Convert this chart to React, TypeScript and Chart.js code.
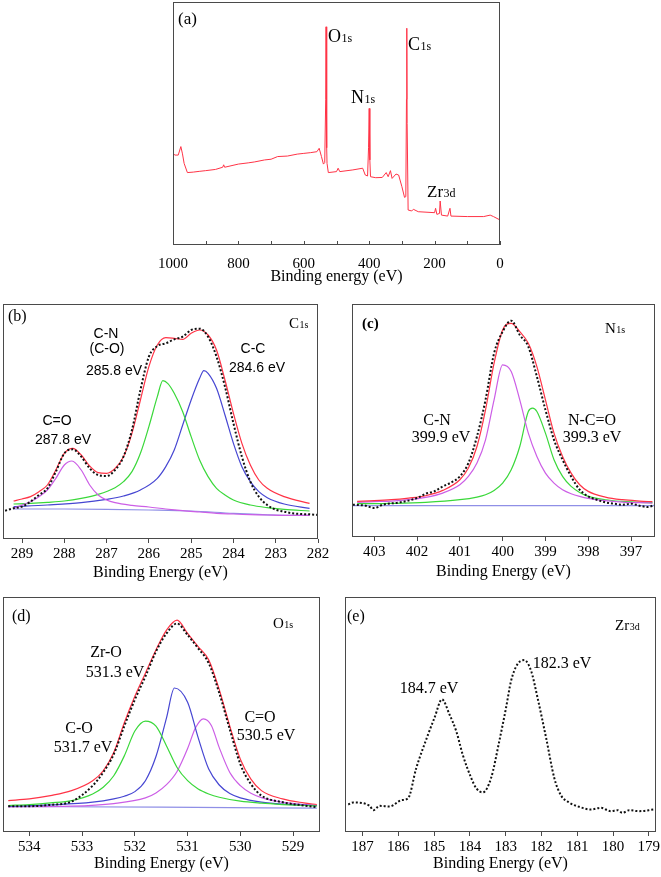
import React, { useEffect, useRef } from "react";
import { Chart, registerables } from "chart.js";

Chart.register(...registerables);

type Pt = [number, number];

const SERIF = '"Liberation Serif", "Times New Roman", serif';
const SANS = '"Liberation Sans", Arial, sans-serif';

// ---------- (a) survey spectrum: [binding energy eV, intensity a.u.] ----------
const surveyScan: Pt[] = [
  [1000, 37.7], [994, 37.0], [984, 37.0], [976, 40.5], [971, 37.5], [966, 33.6], [956, 29.8], [938, 30.0],
  [920, 30.3], [900, 30.6], [870, 31.1], [848, 32.0], [845, 33.0], [842, 32.0], [800, 33.3], [770, 33.8],
  [750, 34.2], [720, 35.0], [700, 35.3], [680, 36.4], [650, 36.6], [620, 37.4], [600, 37.7], [580, 38.0],
  [560, 38.4], [553, 39.8], [546, 36.4], [540, 33.3], [536, 33.9], [533, 60], [532, 89.8], [530, 40],
  [529, 33.6], [525, 29.8], [500, 30.2], [495, 31.6], [490, 30.2], [450, 30.9], [420, 31.6], [412, 28.8],
  [405, 28.4], [402, 40], [400, 56.2], [398, 35], [396, 28.1], [380, 27.7], [360, 27.8], [348, 29.8],
  [342, 28.1], [335, 30.6], [330, 27.4], [318, 29.2], [310, 28.8], [300, 24.0], [292, 19.6], [288, 19.9],
  [286, 60], [285, 89.2], [284, 50], [281, 14.4], [270, 14.0], [265, 14.7], [250, 13.7], [200, 13.3],
  [197, 15.1], [193, 12.6], [185, 13.0], [183, 18.1], [179, 12.3], [160, 11.9], [153, 15.1], [150, 11.9],
  [100, 11.7], [50, 11.7], [30, 12.3], [20, 11.7], [0, 10.3],
];

// ---------- (b) C1s ----------
const c1sRaw: Pt[] = [
  [289.4, 85], [289.2, 92], [289.0, 97], [288.8, 112], [288.6, 132], [288.4, 152], [288.2, 202], [288.0, 257],
  [287.8, 269], [287.6, 247], [287.4, 212], [287.2, 192], [287.0, 189], [286.8, 207], [286.6, 247], [286.4, 327],
  [286.2, 447], [286.0, 547], [285.8, 579], [285.6, 587], [285.4, 599], [285.2, 607], [285.0, 627], [284.8, 631],
  [284.6, 607], [284.4, 547], [284.2, 457], [284.0, 347], [283.8, 247], [283.6, 172], [283.4, 127], [283.2, 102],
  [283.0, 88], [282.8, 82], [282.6, 77], [282.4, 75], [282.2, 74], [282.0, 72],
];
const c1sEnvelope: Pt[] = [
  [289.2, 114], [289.0, 120], [288.8, 127], [288.6, 142], [288.4, 162], [288.2, 207], [288.0, 257], [287.8, 272],
  [287.6, 252], [287.4, 219], [287.2, 199], [287.0, 197], [286.8, 212], [286.6, 247], [286.4, 317], [286.2, 417],
  [286.0, 517], [285.8, 582], [285.6, 604], [285.4, 602], [285.2, 599], [285.0, 617], [284.8, 627], [284.6, 612],
  [284.4, 567], [284.2, 477], [284.0, 377], [283.8, 287], [283.6, 222], [283.4, 177], [283.2, 152], [282.8, 127],
  [282.2, 107],
];
const c1sCO: Pt[] = [
  [289.2, 92], [289.0, 102], [288.8, 112], [288.6, 127], [288.4, 147], [288.2, 182], [288.0, 222], [287.82, 234],
  [287.6, 207], [287.4, 162], [287.2, 132], [287.0, 117], [286.8, 109], [286.4, 101], [286.0, 96], [285.6, 90],
  [285.2, 85], [284.8, 81], [284.4, 77], [284.0, 75], [283.6, 73], [283.2, 72], [282.8, 71], [282.2, 71],
];
const c1sCN: Pt[] = [
  [289.2, 105], [288.8, 107], [288.4, 110], [288.0, 114], [287.6, 122], [287.2, 134], [286.8, 154], [286.6, 172],
  [286.4, 202], [286.2, 257], [286.0, 337], [285.8, 427], [285.67, 475], [285.55, 466], [285.4, 437], [285.2, 382],
  [285.0, 307], [284.8, 237], [284.6, 187], [284.4, 152], [284.2, 132], [284.0, 117], [283.6, 102], [283.2, 94],
  [282.8, 89], [282.2, 84],
];
const c1sCC: Pt[] = [
  [289.2, 97], [288.4, 102], [287.6, 109], [287.0, 119], [286.6, 129], [286.2, 147], [285.8, 182], [285.6, 217],
  [285.4, 267], [285.2, 342], [285.0, 417], [284.8, 482], [284.7, 505], [284.6, 497], [284.4, 452], [284.2, 372],
  [284.0, 287], [283.8, 217], [283.6, 172], [283.4, 142], [283.2, 124], [282.8, 105], [282.2, 92],
];
const c1sBackground: Pt[] = [
  [289.2, 90], [288.0, 90], [287.0, 89], [286.0, 87], [285.0, 84], [284.0, 77], [283.0, 72], [282.2, 71],
];

// ---------- (c) N1s ----------
const n1sRaw: Pt[] = [
  [403.5, 97], [403.2, 94], [403.0, 87], [402.8, 97], [402.4, 104], [402.0, 117], [401.8, 130], [401.6, 137],
  [401.4, 152], [401.2, 164], [401.0, 182], [400.8, 222], [400.6, 302], [400.4, 412], [400.2, 552], [400.0, 617],
  [399.8, 650], [399.6, 607], [399.4, 572], [399.2, 482], [399.0, 382], [398.8, 292], [398.6, 232], [398.4, 182],
  [398.2, 142], [398.0, 122], [397.8, 112], [397.6, 104], [397.4, 100], [397.2, 97], [397.0, 100], [396.8, 94],
  [396.6, 90], [396.45, 97],
];
const n1sEnvelope: Pt[] = [
  [403.4, 107], [403.0, 109], [402.6, 112], [402.2, 117], [401.8, 124], [401.4, 140], [401.0, 172], [400.8, 207],
  [400.6, 272], [400.4, 382], [400.2, 522], [400.0, 622], [399.8, 642], [399.6, 617], [399.4, 582], [399.2, 512],
  [399.0, 412], [398.8, 312], [398.6, 242], [398.4, 192], [398.2, 157], [398.0, 137], [397.6, 120], [397.2, 112],
  [396.8, 108], [396.5, 106],
];
const n1sCN: Pt[] = [
  [403.4, 104], [403.0, 106], [402.6, 108], [402.2, 112], [401.8, 119], [401.4, 132], [401.0, 157], [400.8, 182],
  [400.6, 222], [400.4, 292], [400.2, 412], [400.0, 517], [399.8, 497], [399.6, 412], [399.4, 312], [399.2, 242],
  [399.0, 192], [398.8, 162], [398.6, 142], [398.4, 130], [398.2, 122], [398.0, 116], [397.6, 109], [397.2, 105],
  [396.8, 103], [396.5, 102],
];
const n1sNCO: Pt[] = [
  [403.4, 100], [402.6, 101], [401.8, 104], [401.0, 112], [400.6, 120], [400.4, 127], [400.2, 140], [400.0, 162],
  [399.8, 202], [399.6, 272], [399.4, 377], [399.3, 387], [399.2, 377], [399.0, 312], [398.8, 232], [398.6, 182],
  [398.4, 152], [398.2, 134], [398.0, 122], [397.6, 112], [397.2, 107], [396.8, 104], [396.5, 103],
];
const n1sBackground: Pt[] = [[403.5, 94], [396.45, 94]];

// ---------- (d) O1s ----------
const o1sRaw: Pt[] = [
  [534.4, 78], [534.0, 78], [533.6, 82], [533.2, 92], [532.8, 140], [532.6, 180], [532.4, 235], [532.2, 320],
  [532.0, 400], [531.8, 470], [531.6, 545], [531.4, 600], [531.2, 630], [531.0, 595], [530.8, 555], [530.6, 510],
  [530.4, 420], [530.2, 310], [530.0, 205], [529.8, 145], [529.6, 110], [529.2, 90], [528.8, 80], [528.55, 75],
];
const o1sEnvelope: Pt[] = [
  [534.4, 95], [534.0, 100], [533.6, 110], [533.2, 125], [532.8, 155], [532.6, 185], [532.4, 240], [532.2, 330],
  [532.0, 410], [531.8, 480], [531.6, 550], [531.4, 610], [531.2, 640], [531.0, 600], [530.8, 560], [530.6, 520],
  [530.4, 430], [530.2, 320], [530.0, 220], [529.8, 160], [529.6, 125], [529.2, 100], [528.8, 88], [528.55, 83],
];
const o1sCO: Pt[] = [
  [534.4, 80], [534.0, 83], [533.6, 88], [533.2, 95], [532.8, 115], [532.6, 135], [532.4, 170], [532.2, 230],
  [532.0, 305], [531.8, 335], [531.6, 320], [531.4, 260], [531.2, 195], [531.0, 155], [530.8, 130], [530.6, 115],
  [530.4, 105], [530.0, 93], [529.6, 87], [529.2, 83], [528.8, 80], [528.55, 78],
];
const o1sZrO: Pt[] = [
  [534.4, 78], [533.6, 82], [532.8, 90], [532.4, 100], [532.2, 108], [532.0, 122], [531.8, 155], [531.6, 228],
  [531.4, 345], [531.25, 435], [531.0, 392], [530.8, 285], [530.6, 190], [530.4, 142], [530.2, 116], [530.0, 103],
  [529.6, 90], [529.2, 84], [528.55, 80],
];
const o1sCdO: Pt[] = [
  [534.4, 76], [533.2, 78], [532.4, 86], [531.8, 103], [531.6, 118], [531.4, 143], [531.2, 183], [531.0, 252],
  [530.85, 315], [530.7, 342], [530.55, 322], [530.4, 255], [530.2, 180], [530.0, 140], [529.8, 117], [529.6, 104],
  [529.2, 90], [528.8, 83], [528.55, 80],
];
const o1sBackground: Pt[] = [[534.4, 77], [531.5, 75], [528.55, 72]];

// ---------- (e) Zr3d ----------
const zr3dRaw: Pt[] = [
  [187.4, 82], [187.26, 88], [186.8, 78], [186.7, 65], [186.52, 78], [186.24, 76], [185.91, 95], [185.73, 100],
  [185.5, 190], [185.17, 290], [184.99, 340], [184.78, 395], [184.57, 350], [184.38, 300], [184.2, 230],
  [183.96, 160], [183.82, 130], [183.64, 118], [183.41, 160], [183.18, 270], [182.99, 370], [182.85, 450],
  [182.67, 500], [182.48, 512], [182.29, 480], [182.11, 400], [181.87, 280], [181.64, 160], [181.46, 110],
  [181.23, 88], [180.95, 75], [180.62, 67], [180.34, 72], [180.06, 62], [179.88, 65], [179.74, 57], [179.55, 65],
  [179.28, 62], [178.86, 67],
];

// ---------- styles ----------
const RED = "#ff3346";
const GREEN = "#3ad83a";
const BLUE = "#4646d2";
const PURPLE = "#cc5ee6";
const BASE = "#8f8fe6";
const DOTS = "#111111";
const FRAME = "#4a4a4a";

interface Ann {
  text: string; sub?: string; x: number; y: number; align?: "left" | "center";
  size?: number; subSize?: number; family?: string; weight?: string;
}
interface Line { pts: Pt[]; color: string; width: number; dash?: number[]; smooth?: boolean; }
interface Panel {
  key: string;
  box: [number, number, number, number];
  area: [number, number, number, number];
  xMin: number; xMax: number; xStep: number; minorStep: number; yMax: number;
  axisTitle: string; ticksInside: boolean; labelPad: number; titlePad: number;
  lines: Line[]; anns: Ann[];
}

const dotted = (pts: Pt[]): Line => ({ pts, color: DOTS, width: 2, dash: [2, 2], smooth: true });
const fit = (pts: Pt[], color: string): Line => ({ pts, color, width: 1.2, smooth: true });

const panels: Panel[] = [
  {
    key: "a", box: [140, 0, 390, 290], area: [173, 2, 500, 245],
    xMin: 0, xMax: 1000, xStep: 200, minorStep: 100, yMax: 100,
    axisTitle: "Binding energy (eV)", ticksInside: true, labelPad: 6, titlePad: 4,
    lines: [{ pts: surveyScan, color: RED, width: 1, smooth: false }],
    anns: [
      { text: "(a)", x: 178, y: 24, size: 17 },
      { text: "O", sub: "1s", x: 328, y: 42, size: 18, subSize: 12 },
      { text: "N", sub: "1s", x: 351, y: 103, size: 18, subSize: 12 },
      { text: "C", sub: "1s", x: 408, y: 50, size: 18, subSize: 12 },
      { text: "Zr", sub: "3d", x: 427, y: 197, size: 17, subSize: 12 },
    ],
  },
  {
    key: "b", box: [0, 295, 335, 290], area: [3, 304, 318, 539],
    xMin: 282, xMax: 289.45, xStep: 1, minorStep: 1, yMax: 705,
    axisTitle: "Binding Energy (eV)", ticksInside: false, labelPad: 2, titlePad: 2.4,
    lines: [dotted(c1sRaw), fit(c1sEnvelope, RED), fit(c1sCO, PURPLE), fit(c1sCN, GREEN), fit(c1sCC, BLUE), fit(c1sBackground, BASE)],
    anns: [
      { text: "(b)", x: 8, y: 321, size: 16 },
      { text: "C", sub: "1s", x: 289, y: 328, size: 15, subSize: 10 },
      { text: "C-N", x: 106, y: 338, align: "center", family: SANS, size: 14 },
      { text: "(C-O)", x: 107, y: 353, align: "center", family: SANS, size: 14 },
      { text: "285.8 eV", x: 114, y: 375, align: "center", family: SANS, size: 14 },
      { text: "C-C", x: 253, y: 353, align: "center", family: SANS, size: 14 },
      { text: "284.6 eV", x: 257, y: 372, align: "center", family: SANS, size: 14 },
      { text: "C=O", x: 57, y: 425, align: "center", family: SANS, size: 14 },
      { text: "287.8 eV", x: 63, y: 444, align: "center", family: SANS, size: 14 },
    ],
  },
  {
    key: "c", box: [340, 295, 321, 290], area: [352, 304, 655, 537],
    xMin: 396.44, xMax: 403.52, xStep: 1, minorStep: 1, yMax: 700,
    axisTitle: "Binding Energy (eV)", ticksInside: false, labelPad: 2, titlePad: 3.4,
    lines: [dotted(n1sRaw), fit(n1sEnvelope, RED), fit(n1sCN, PURPLE), fit(n1sNCO, GREEN), fit(n1sBackground, BASE)],
    anns: [
      { text: "(c)", x: 362, y: 328, size: 15, weight: "bold" },
      { text: "N", sub: "1s", x: 605, y: 333, size: 15, subSize: 10 },
      { text: "C-N", x: 437, y: 425, align: "center", size: 16 },
      { text: "399.9 eV", x: 441, y: 442, align: "center", size: 16 },
      { text: "N-C=O", x: 592, y: 425, align: "center", size: 16 },
      { text: "399.3 eV", x: 592, y: 442, align: "center", size: 16 },
    ],
  },
  {
    key: "d", box: [0, 588, 335, 289], area: [3, 597, 320, 832],
    xMin: 528.49, xMax: 534.5, xStep: 1, minorStep: 1, yMax: 710,
    axisTitle: "Binding Energy (eV)", ticksInside: false, labelPad: 2, titlePad: 3.4,
    lines: [dotted(o1sRaw), fit(o1sEnvelope, RED), fit(o1sCO, GREEN), fit(o1sZrO, BLUE), fit(o1sCdO, PURPLE), fit(o1sBackground, BASE)],
    anns: [
      { text: "(d)", x: 12, y: 621, size: 16 },
      { text: "O", sub: "1s", x: 273, y: 628, size: 15, subSize: 10 },
      { text: "Zr-O", x: 106, y: 657, align: "center", size: 16 },
      { text: "531.3 eV", x: 115, y: 677, align: "center", size: 16 },
      { text: "C-O", x: 79, y: 733, align: "center", size: 16 },
      { text: "531.7 eV", x: 83, y: 752, align: "center", size: 16 },
      { text: "C=O", x: 260, y: 722, align: "center", size: 16 },
      { text: "530.5 eV", x: 266, y: 740, align: "center", size: 16 },
    ],
  },
  {
    key: "e", box: [340, 588, 321, 289], area: [345, 597, 656, 832],
    xMin: 178.8, xMax: 187.49, xStep: 1, minorStep: 1, yMax: 700,
    axisTitle: "Binding Energy (eV)", ticksInside: false, labelPad: 2, titlePad: 3.4,
    lines: [{ pts: zr3dRaw, color: DOTS, width: 2, dash: [2, 2], smooth: true }],
    anns: [
      { text: "(e)", x: 347, y: 621, size: 16 },
      { text: "Zr", sub: "3d", x: 615, y: 630, size: 15, subSize: 10 },
      { text: "184.7 eV", x: 429, y: 693, align: "center", size: 16 },
      { text: "182.3 eV", x: 562, y: 668, align: "center", size: 16 },
    ],
  },
];

function PanelChart({ panel }: { panel: Panel }) {
  const ref = useRef<HTMLCanvasElement>(null);
  useEffect(() => {
    const canvas = ref.current;
    if (!canvas) return;
    const [bl, bt, bw, bh] = panel.box;
    const [al, at, ar, ab] = panel.area;
    const axisH = bt + bh - ab;

    const overlay = {
      id: "overlay_" + panel.key,
      afterDraw(chart: any) {
        const ctx = chart.ctx as CanvasRenderingContext2D;
        const a = chart.chartArea;
        ctx.save();
        ctx.strokeStyle = FRAME;
        ctx.lineWidth = 1;
        ctx.strokeRect(a.left + 0.5, a.top + 0.5, a.right - a.left - 1, a.bottom - a.top - 1);
        if (panel.ticksInside) {
          const xs = chart.scales.x;
          ctx.beginPath();
          for (let v = panel.xMin; v <= panel.xMax + 1e-9; v += panel.minorStep) {
            const px = Math.round(xs.getPixelForValue(v)) + 0.5;
            ctx.moveTo(px, a.bottom);
            ctx.lineTo(px, a.bottom - 4);
          }
          ctx.stroke();
        }
        ctx.fillStyle = "#000";
        ctx.textBaseline = "alphabetic";
        ctx.textAlign = "left";
        for (const n of panel.anns) {
          const fam = n.family ?? SERIF;
          const size = n.size ?? 16;
          const mainFont = `${n.weight ?? "normal"} ${size}px ${fam}`;
          const subFont = `normal ${n.subSize ?? 11}px ${fam}`;
          ctx.font = mainFont;
          const w1 = ctx.measureText(n.text).width;
          let w2 = 0;
          if (n.sub) {
            ctx.font = subFont;
            w2 = ctx.measureText(n.sub).width + 0.5;
          }
          let x = n.x - bl;
          if (n.align === "center") x -= (w1 + w2) / 2;
          const y = n.y - bt;
          ctx.font = mainFont;
          ctx.fillText(n.text, x, y);
          if (n.sub) {
            ctx.font = subFont;
            ctx.fillText(n.sub, x + w1 + 0.5, y);
          }
        }
        ctx.restore();
      },
    };

    const chart = new Chart(canvas, {
      type: "line",
      data: {
        datasets: panel.lines.map((l) => ({
          data: l.pts.map(([x, y]) => ({ x, y })),
          borderColor: l.color,
          borderWidth: l.width,
          borderDash: l.dash ?? [],
          pointRadius: 0,
          fill: false,
          tension: l.smooth ? 0.4 : 0,
          cubicInterpolationMode: l.smooth ? "monotone" : "default",
        })) as any,
      },
      options: {
        animation: false,
        responsive: false,
        maintainAspectRatio: false,
        devicePixelRatio: 1,
        events: [],
        layout: { padding: { left: al - bl, right: bl + bw - ar, top: at - bt, bottom: 0 } },
        plugins: { legend: { display: false }, tooltip: { enabled: false }, title: { display: false } },
        scales: {
          x: {
            type: "linear",
            reverse: true,
            min: panel.xMin,
            max: panel.xMax,
            ticks: {
              stepSize: panel.xStep,
              includeBounds: false,
              autoSkip: false,
              maxRotation: 0,
              padding: panel.labelPad,
              color: "#000",
              font: { family: SERIF, size: 15 },
              callback: (v: any) => String(v),
            },
            grid: {
              display: !panel.ticksInside,
              drawOnChartArea: false,
              drawTicks: true,
              tickLength: 4,
              color: FRAME,
              lineWidth: 1,
            },
            border: { display: false },
            title: {
              display: true,
              text: panel.axisTitle,
              color: "#000",
              font: { family: SERIF, size: 16 },
              padding: { top: 0, bottom: panel.titlePad },
            },
            afterFit: (s: any) => {
              s.height = axisH;
              s.paddingLeft = 0;
              s.paddingRight = 0;
            },
          },
          y: { display: false, min: 0, max: panel.yMax },
        },
      } as any,
      plugins: [overlay],
    });
    return () => chart.destroy();
  }, [panel]);
  const [bl, bt, bw, bh] = panel.box;
  return (
    <canvas
      ref={ref}
      width={bw}
      height={bh}
      style={{ position: "absolute", left: bl, top: bt, width: bw, height: bh }}
    />
  );
}

export default function App() {
  return (
    <div style={{ position: "absolute", left: 0, top: 0, width: 661, height: 877, background: "#fff" }}>
      {panels.map((p) => (
        <PanelChart key={p.key} panel={p} />
      ))}
    </div>
  );
}
